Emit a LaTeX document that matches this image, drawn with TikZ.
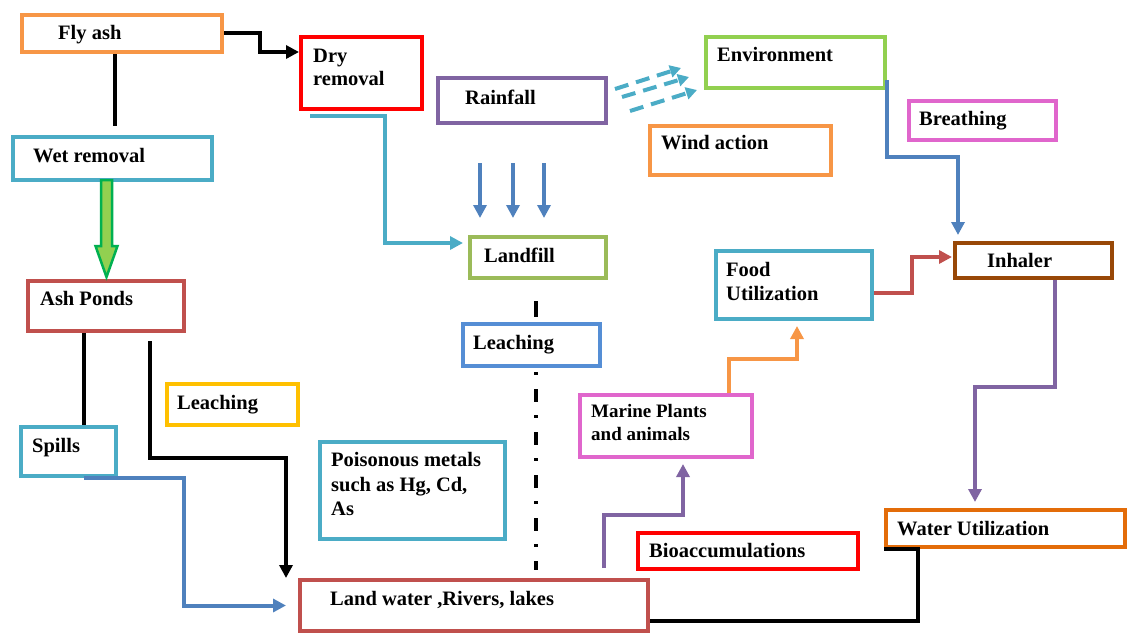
\documentclass[tikz,border=0pt]{standalone}
\usepackage{fontspec}
\setmainfont{Liberation Serif}
\usetikzlibrary{arrows.meta}
\definecolor{cOrange}{HTML}{F79646}
\definecolor{cRed}{HTML}{FF0000}
\definecolor{cPurple}{HTML}{8064A2}
\definecolor{cEnvGreen}{HTML}{92D050}
\definecolor{cTeal}{HTML}{4BACC6}
\definecolor{cLandGreen}{HTML}{9BBB59}
\definecolor{cLeachBlue}{HTML}{558ED5}
\definecolor{cPink}{HTML}{E066CC}
\definecolor{cBrown}{HTML}{984807}
\definecolor{cRedBrown}{HTML}{C0504D}
\definecolor{cYellow}{HTML}{FFC000}
\definecolor{cDarkOrange}{HTML}{E36C09}
\definecolor{cBlue}{HTML}{4F81BD}
\definecolor{cGreenDark}{HTML}{00B050}
\definecolor{cConnRed}{HTML}{C0504D}
\newcommand{\bx}[6]{\node[box=#2, minimum width={#5-#3-4}, minimum height={#6-#4-4}] (#1) at ({#3+2},{#4+2}) {};}
\begin{document}
\begin{tikzpicture}[x=1pt,y=-1pt,
  box/.style={draw=#1, line width=4pt, rectangle, inner sep=0pt, anchor=north west, fill=white},
  txt/.style={anchor=base west, inner sep=0pt, font=\fontsize{20.5}{24}\selectfont\bfseries},
  stxt/.style={anchor=base west, inner sep=0pt, font=\fontsize{19}{23}\selectfont\bfseries},
  conn/.style={line width=4pt, draw=#1},
  arr/.style={-{Triangle[length=13pt,width=13pt]}},
  sarr/.style={-{Triangle[length=11pt,width=12pt]}},
  windline/.style={dash pattern=on 14pt off 8pt},
  ddline/.style={line width=4pt, draw=black, dash pattern=on 3pt off 14pt on 13pt off 13pt},
  fatarrow/.style={fill=cEnvGreen, draw=cGreenDark, line width=2.5pt, line join=miter}
]
\useasboundingbox (0,0) rectangle (1127,632);

% boxes
\bx{fly}{cOrange}{18}{11}{222}{52}
\bx{dry}{cRed}{297}{33}{422}{109}
\bx{rain}{cPurple}{434}{74}{606}{123}
\bx{env}{cEnvGreen}{702}{33}{885}{88}
\bx{wind}{cOrange}{646}{122}{831}{175}
\bx{breath}{cPink}{905}{97}{1056}{140}
\bx{wet}{cTeal}{9}{133}{212}{180}
\bx{landfill}{cLandGreen}{466}{233}{606}{278}
\bx{food}{cTeal}{712}{247}{872}{319}
\bx{inhaler}{cBrown}{951}{239}{1112}{278}
\bx{ash}{cRedBrown}{24}{277}{184}{331}
\bx{leachm}{cLeachBlue}{459}{320}{600}{366}
\bx{leachy}{cYellow}{163}{380}{298}{425}
\bx{spills}{cTeal}{17}{423}{116}{476}
\bx{poison}{cTeal}{316}{438}{505}{539}
\bx{marine}{cPink}{576}{391}{752}{457}
\bx{bio}{cRed}{634}{529}{858}{569}
\bx{water}{cDarkOrange}{882}{506}{1125}{547}
\bx{land}{cRedBrown}{296}{576}{648}{631}

% texts
\node[txt] (tfly) at (58,39) {Fly ash};
\node[txt] (tdry1) at (313,62) {Dry};
\node[txt] (tdry2) at (313,85) {removal};
\node[txt] (train) at (465,104) {Rainfall};
\node[txt] (tenv) at (717,61) {Environment};
\node[txt] (twind) at (661,149) {Wind action};
\node[txt] (tbreath) at (919,125) {Breathing};
\node[txt] (twet) at (33,162) {Wet removal};
\node[txt] (tlandfill) at (484,262) {Landfill};
\node[txt] (tfood1) at (726,276) {Food};
\node[txt] (tfood2) at (726,300) {Utilization};
\node[txt] (tinhaler) at (987,267) {Inhaler};
\node[txt] (tash) at (40,305) {Ash Ponds};
\node[txt] (tleachm) at (473,349) {Leaching};
\node[txt] (tleachy) at (177,409) {Leaching};
\node[txt] (tspills) at (32,452) {Spills};
\node[txt] (tpoison1) at (331,466) {Poisonous metals};
\node[txt] (tpoison2) at (331,491) {such as Hg, Cd,};
\node[txt] (tpoison3) at (331,515) {As};
\node[stxt] (tmarine1) at (591,417) {Marine Plants};
\node[stxt] (tmarine2) at (591,440) {and animals};
\node[txt] (tbio) at (649,557) {Bioaccumulations};
\node[txt] (twater) at (897,535) {Water Utilization};
\node[txt] (tland) at (330,605) {Land water ,Rivers, lakes};

% connectors
\draw[conn=black, arr] (fly.east |- 0,33) -- (260,33) |- (dry.west |- 0,52);
\coordinate (flyend) at (115,126);
\draw[conn=black] (fly.south -| flyend) -- (flyend);
\draw[fatarrow] (101,180) -- (112,180) -- (112,246) -- (117.5,246) -- (106.5,277) -- (95.5,246) -- (101,246) -- cycle;
\coordinate (dryout) at (310,116);
\draw[conn=cTeal, arr, shorten >=5pt] (dryout) -- (385,116) |- (landfill.west |- 0,243);
\foreach \x in {480,513,544} \draw[conn=cBlue, arr] (\x,163) -- (\x,218);
\draw[conn=cTeal, windline, sarr] (615,89) -- (681,68);
\draw[conn=cTeal, windline, sarr] (622,97) -- (689,77);
\draw[conn=cTeal, windline, sarr] (630,111) -- (697,90);
\draw[conn=cBlue, arr, shorten >=6pt] (env.east |- 0,80) -- (env.east |- 0,157) -| (inhaler.north -| 958,0);
\draw[conn=cConnRed, arr, shorten >=1pt] (food.east |- 0,293) -- (912,293) |- (inhaler.west |- 0,257);
\draw[conn=cPurple, arr, shorten >=6pt] (inhaler.south -| 1055,0) -- (1055,387) -| (water.north -| 975,0);
\draw[conn=black] (water.south west) -- (water.south -| 918,0) -- (918,621) -- (land.east |- 0,621);
\coordinate (landout) at (604,568);
\draw[conn=cPurple, arr, shorten >=5pt] (landout) -- (604,515) -| (marine.south -| 683,0);
\draw[conn=cOrange, arr, shorten >=5pt] (marine.north -| 729,0) -- (729,359) -| (food.south -| 797,0);
\draw[conn=black] (ash.south -| 84,0) -- (spills.north -| 84,0);
\coordinate (ashout) at (150,341);
\draw[conn=black, arr] (ashout) -- (150,458) -| ([xshift=-12pt]land.north west);
\draw[conn=cBlue, arr] (spills.south -| 84,0) -- (spills.south -| 184,0) |- ([xshift=-12pt]land.west);
\draw[line width=4pt, shorten <=21pt, shorten >=5pt] (landfill.south -| 536,0) -- (leachm.north -| 536,0);
\draw[ddline, shorten <=4pt, shorten >=8pt] (leachm.south -| 536,0) -- (land.north -| 536,0);
\end{tikzpicture}
\end{document}
